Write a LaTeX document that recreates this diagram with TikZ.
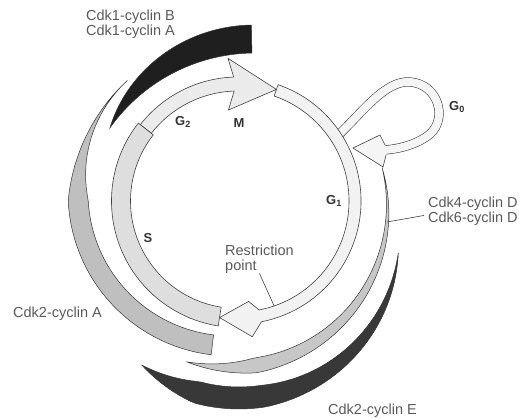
\documentclass[tikz,border=0pt]{standalone}
\usepackage{fontspec}
\setmainfont{Liberation Sans}
\tikzstyle{cdkband} = [draw=black!80, line width=0.5pt]
\tikzstyle{phase} = [draw=black!75, line width=0.6pt]
\tikzstyle{g0band} = [draw=black!75, line width=0.6pt, double=black!4, double distance=8pt]
\tikzstyle{pointer} = [draw=black!75, line width=0.6pt]
\tikzstyle{cdklabel} = [text=black!65, align=left, inner sep=0pt, font=\fontsize{14.5}{15}\selectfont]
\tikzstyle{phaselabel} = [text=black!80, inner sep=0pt, font=\bfseries\fontsize{13}{15}\selectfont]

\begin{document}
\begin{tikzpicture}[x=1pt, y=1pt]
    \useasboundingbox (0,0) rectangle (519,418);
    \coordinate (C) at (238,217);

    % cyclin-Cdk bands
    \begin{scope}[shift={(255,187)}]
        \filldraw[cdkband, fill=black!88] plot[domain=91:144.6, samples=40] (\x:178)
            -- plot[domain=144.6:91, samples=40] (\x:{178+28*(1-(((\x)-91)/53.6)^2)}) -- cycle;
    \end{scope}
    \begin{scope}[shift={(231,225)}]
        \filldraw[cdkband, fill=black!25] plot[domain=132.7:263, samples=50] (\x:{153-10*min(1,(((\x)-132.7)/50)^2)})
            -- plot[domain=263:132.7, samples=50] (\x:{153+10*min(1,(((\x)-132.7)/50)^2)}) -- cycle;
    \end{scope}
    \begin{scope}[shift={(229,209)}]
        \filldraw[cdkband, fill=black!22] plot[domain=15:-105.4, samples=60] (\x:{158.6-7.5*min((15-(\x))/95,((\x)+105.4)/25)})
            -- plot[domain=-105.4:15, samples=60] (\x:{158.6+7.5*min((15-(\x))/95,((\x)+105.4)/25)}) -- cycle;
        \coordinate (cdkd) at (-4.7:158.6);
    \end{scope}
    \begin{scope}[shift={(239,180)}]
        \filldraw[cdkband, fill=black!78] plot[domain=-5.4:-127.4, samples=60] (\x:{160-11*min(1,(-5.4-(\x))/76,((\x)+127.4)/22)})
            -- plot[domain=-127.4:-5.4, samples=60] (\x:{160+11*min(1,(-5.4-(\x))/76,((\x)+127.4)/22)}) -- cycle;
    \end{scope}

    % G0 loop
    \begin{scope}[shift={(C)}]
        \coordinate (g0s) at (33:117);
        \coordinate (rp) at (-71:111);
    \end{scope}
    \coordinate (g0e) at (384,268);
    \draw[g0band] (g0s) .. controls (362,305) and (385,338) .. (410,336)
        .. controls (438,334) and (448,300) .. (430,284)
        .. controls (418,274) and (400,269) .. (g0e);
    \fill[black!4] (385,273) -- (380,283) -- (353,270) -- (383,251) -- (386,263) -- cycle;
    \draw[phase] (385,273) -- (380,283) -- (353,270) -- (383,251) -- (386,263);

    % phases of the cycle
    \begin{scope}[shift={(C)}]
        \filldraw[phase, fill=black!5] (71:123) arc[start angle=71, end angle=-79, radius=123pt]
            -- (-84:136.5) -- (-99:118) -- (-84:101) -- (-79:111)
            arc[start angle=-79, end angle=71, radius=111pt] -- cycle;
        \filldraw[phase, fill=black!8] (142:124) arc[start angle=142, end angle=92, radius=124pt]
            -- (94:143) -- (71:118) -- (96:91.5) -- (92:110)
            arc[start angle=92, end angle=142, radius=110pt] -- cycle;
        \filldraw[phase, fill=black!13] (142:126.5) arc[start angle=142, end angle=261, radius=126.5pt]
            -- (261:107.5) arc[start angle=261, end angle=142, radius=107.5pt] -- cycle;
    \end{scope}

    % labels
    \node[phaselabel] (m) at (239,295) {M};
    \node[phaselabel] (g2) at (183,296) {G\textsubscript{2}};
    \node[phaselabel] (g1) at (334,217) {G\textsubscript{1}};
    \node[phaselabel] (g0) at (457,311) {G\textsubscript{0}};
    \node[phaselabel] (s) at (148,180) {S};

    \node[cdklabel, anchor=north west] (cdkb) at (86,408) {Cdk1-cyclin B\\Cdk1-cyclin A};
    \node[cdklabel, anchor=north west] (cdklabel) at (428,221) {Cdk4-cyclin D\\Cdk6-cyclin D};
    \node[cdklabel, anchor=west] (cdka) at (13,104) {Cdk2-cyclin A};
    \node[cdklabel, anchor=west] (cdke) at (328,7) {Cdk2-cyclin E};
    \node[cdklabel, anchor=north west] (rlabel) at (225,173.5) {Restriction\\point};

    \draw[pointer] (rlabel.south) -- (rp);
    \draw[pointer] (cdkd) -- ([xshift=-4pt, yshift=-4pt]cdklabel.west);
\end{tikzpicture}
\end{document}
